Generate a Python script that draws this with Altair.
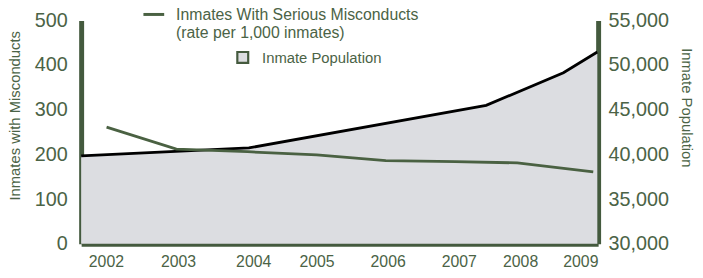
import altair as alt
import pandas as pd

# --- data (x in year units along the axis) ---
rate_t = [2002.01, 2003.04, 2004.09, 2005.11, 2006.13, 2007.15, 2008.07, 2009.19]
rate_v = [261, 212, 206, 199, 186, 184, 181, 161]

pop_t = [2001.635, 2004.11, 2007.61, 2008.75, 2009.25]
pop_v = [39850, 40730, 45490, 49140, 51460]

tick_pos = [2002.0, 2003.065, 2004.173, 2005.107, 2006.157, 2007.207, 2008.111, 2009.0]
pop_ticks = [30000, 35000, 40000, 45000, 50000, 55000]
rate_ticks = [0, 100, 200, 300, 400, 500]

rate_df = pd.DataFrame({"t": rate_t, "rate": rate_v})
pop_df = pd.DataFrame({"t": pop_t, "pop": pop_v, "base": [30000] * len(pop_t)})

FONT = "Liberation Sans"
TXT = "#4b6346"
AXC = "#445a3e"
LINEG = "#4a6142"
FILL = "#dcdde1"

xenc = alt.X(
    "t:Q",
    scale=alt.Scale(domain=[2001.635, 2009.262], nice=False, zero=False),
    axis=alt.Axis(
        values=tick_pos, format="d", title=None, grid=False, ticks=False,
        domainColor=AXC, domainWidth=5, labelFont=FONT, labelFontSize=16,
        labelColor=TXT, labelPadding=10, labelFlush=False, labelOverlap=False,
    ),
)

pop_axis = alt.Axis(
    orient="right", values=pop_ticks,
    labelExpr="format(datum.value, ',.0f')", grid=False, ticks=False,
    domainColor=AXC, domainWidth=5, labelFont=FONT, labelFontSize=20,
    labelColor=TXT, labelPadding=10, labelFlush=False,
    title="Inmate Population", titleFont=FONT, titleFontSize=15,
    titleFontWeight="normal", titleColor=TXT, titleAngle=90, titleX=89,
    titleY=88, titleAlign="center", titleBaseline="middle",
)
pop_scale = alt.Scale(domain=[30000, 55000], nice=False, zero=False)

area = alt.Chart(pop_df).mark_area(color=FILL, opacity=1).encode(
    x=xenc,
    y=alt.Y("pop:Q", scale=pop_scale, axis=pop_axis),
    y2="base:Q",
)

pop_line = alt.Chart(pop_df).mark_line(color="#000000", strokeWidth=2.8).encode(
    x=xenc, y=alt.Y("pop:Q", scale=pop_scale, axis=pop_axis)
)

rate_line = alt.Chart(rate_df).mark_line(color=LINEG, strokeWidth=2.8).encode(
    x=xenc,
    y=alt.Y(
        "rate:Q",
        scale=alt.Scale(domain=[0, 500], nice=False),
        axis=alt.Axis(
            orient="left", values=rate_ticks, grid=False,
            ticks=False, domainColor=AXC, domainWidth=5, labelFont=FONT,
            labelFontSize=20, labelColor=TXT, labelPadding=14, labelFlush=False,
            title="Inmates with Misconducts", titleFont=FONT, titleFontSize=15,
            titleFontWeight="normal", titleColor=TXT, titleAngle=-90,
            titleX=-67, titleY=96, titleAlign="center", titleBaseline="middle",
        ),
    ),
)

one = pd.DataFrame({"k": [0]})
leg_rule = alt.Chart(one).mark_rule(color=LINEG, strokeWidth=3).encode(
    x=alt.value(63), x2=alt.value(84), y=alt.value(-6)
)
leg_t1 = alt.Chart(one).mark_text(
    text="Inmates With Serious Misconducts", font=FONT, fontSize=16, color=TXT,
    align="left", baseline="middle",
).encode(x=alt.value(96), y=alt.value(-5))
leg_t2 = alt.Chart(one).mark_text(
    text="(rate per 1,000 inmates)", font=FONT, fontSize=16, color=TXT,
    align="left", baseline="middle",
).encode(x=alt.value(96), y=alt.value(13))
leg_sq = alt.Chart(one).mark_square(
    size=121, fill=FILL, stroke=AXC, strokeWidth=2.2, opacity=1, fillOpacity=1
).encode(x=alt.value(163.5), y=alt.value(37.5))
leg_t3 = alt.Chart(one).mark_text(
    text="Inmate Population", font=FONT, fontSize=15, color=TXT,
    align="left", baseline="middle",
).encode(x=alt.value(183), y=alt.value(38))

pop_layer = alt.layer(area, pop_line)
main = alt.layer(pop_layer, rate_line).resolve_scale(y="independent")

chart = alt.layer(main, leg_rule, leg_t1, leg_t2, leg_sq, leg_t3).properties(
    width=523,
    height=226,
    padding={"left": 74, "top": 11, "right": 98, "bottom": 25},
    autosize=alt.AutoSizeParams(type="none"),
).configure_view(stroke=None)

chart.save("out.html", embed_options={"renderer": "svg", "actions": False})
